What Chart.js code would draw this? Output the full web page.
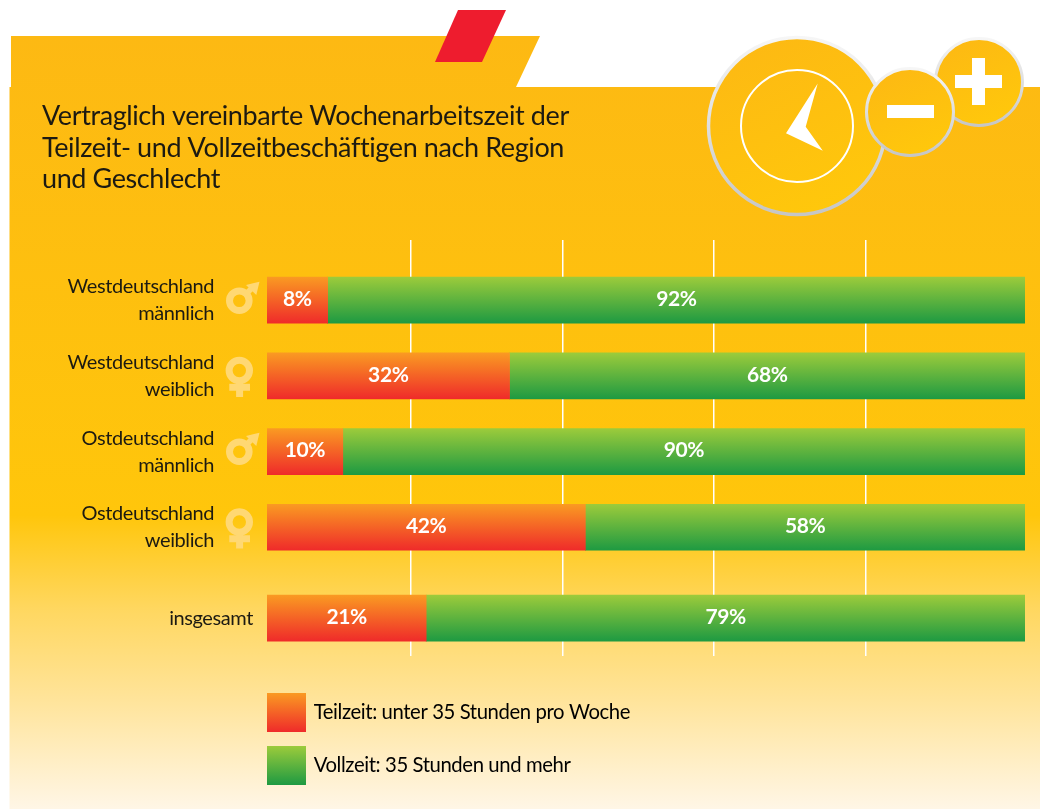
<!DOCTYPE html>
<html lang="de"><head><meta charset="utf-8">
<script src="https://cdn.jsdelivr.net/npm/chart.js@4"></script>
<style>
html,body{margin:0;padding:0;background:#fff;width:1045px;height:809px;overflow:hidden}
#bg,#c{position:absolute;left:0;top:0}
</style></head><body>
<svg id="bg" width="1045" height="809" viewBox="0 0 1045 809">
<defs>
<linearGradient id="page" gradientUnits="userSpaceOnUse" x1="0" y1="36" x2="0" y2="809">
<stop offset="0" stop-color="#FDB913"/><stop offset=".62" stop-color="#FFC60B"/><stop offset=".74" stop-color="#FFD75F"/><stop offset=".86" stop-color="#FFE49B"/><stop offset="1" stop-color="#FFF6E6"/>
</linearGradient>
<linearGradient id="disc" x1=".25" y1="0" x2=".7" y2="1"><stop offset="0" stop-color="#FDB913"/><stop offset="1" stop-color="#FFC80B"/></linearGradient>
<linearGradient id="rim" x1="0" y1="0" x2="0" y2="1"><stop offset="0" stop-color="#F6F6F6"/><stop offset="1" stop-color="#C6C6C6"/></linearGradient>
</defs>
<path d="M11 36H540L516 87H1040V809H9.5V87H11Z" fill="url(#page)"/>
<path d="M458 10H506L482 62H435Z" fill="#EE1C2E"/>
<circle cx="979" cy="82" r="43.5" fill="url(#disc)" stroke="url(#rim)" stroke-width="3"/>
<path d="M955 75H972V58H985V75H1002V88H985V105H972V88H955Z" fill="#fff"/>
<circle cx="797" cy="126" r="88.5" fill="url(#disc)" stroke="url(#rim)" stroke-width="3.5"/>
<circle cx="797" cy="126" r="56" fill="none" stroke="#fff" stroke-width="2"/>
<path d="M817.7 83.5L805.7 126.7L822.8 150.7L786 133.3Z" fill="#fff"/>
<circle cx="910" cy="112" r="43.5" fill="url(#disc)" stroke="url(#rim)" stroke-width="3"/>
<rect x="887" y="105" width="47" height="13" fill="#fff"/>
<g fill="none" stroke="#FFD873" stroke-width="7">
<circle cx="239.3" cy="300.7" r="9.8"/><path d="M246 294L254 286" stroke-width="5.5"/>
<circle cx="239.3" cy="370.5" r="10.2"/><path d="M239.6 383V397M229.3 387.3H250"/>
<circle cx="239.3" cy="451.7" r="9.8"/><path d="M246 445L254 437" stroke-width="5.5"/>
<circle cx="239.3" cy="522" r="10.2"/><path d="M239.6 534.5V548.5M229.3 538.8H250"/>
</g>
<path d="M259.5 281.7L256.3 295L246 285Z M259.5 432.7L256.3 446L246 436Z" fill="#FFD873"/>
</svg>
<canvas id="c" width="1045" height="809"></canvas>
<script>
const titleLines = ['Vertraglich vereinbarte Wochenarbeitszeit der','Teilzeit- und Vollzeitbeschäftigen nach Region','und Geschlecht'];
const categories = [['Westdeutschland','männlich'],['Westdeutschland','weiblich'],['Ostdeutschland','männlich'],['Ostdeutschland','weiblich'],['insgesamt']];
const rows = [0,1,2,3,4.2];
const teilzeit = [8,32,10,42,21];
const vollzeit = [92,68,90,58,79];
const seriesNames = ['Teilzeit: unter 35 Stunden pro Woche','Vollzeit: 35 Stunden und mehr'];
const gridTicks = [20,40,60,80];
const FONT = 'Lato,"Liberation Sans",sans-serif';
const TEXT = '#1c1a12';
const ORANGE = ['#FA9A22','#EF2B2A'];
const GREEN = ['#9CCB3B','#1E9A42'];
const BAR_H = 46;

function grad(ctx, top, h, c){const g=ctx.createLinearGradient(0,top,0,top+h);g.addColorStop(0,c[0]);g.addColorStop(1,c[1]);return g;}
function barFill(c){return function(context){
  const chart=context.chart, i=context.dataIndex;
  if(i===undefined||!chart.scales.y) return c[0];
  const y=chart.scales.y.getPixelForValue(rows[i]);
  return grad(chart.ctx,y-BAR_H/2,BAR_H,c);
};}
function labelFor(list){return (v,i)=>{const n=rows.indexOf(v);return n<0?'':list[n];};}

const valueLabels={id:'valueLabels',afterDatasetsDraw(chart){
  const ctx=chart.ctx;ctx.save();
  ctx.font='bold 21px '+FONT;ctx.fillStyle='#fff';ctx.textAlign='center';ctx.textBaseline='middle';
  chart.data.datasets.forEach((ds,d)=>{chart.getDatasetMeta(d).data.forEach((el,i)=>{
    const p=el.getCenterPoint();ctx.fillText(ds.data[i].x+'%',p.x,p.y-1);});});
  ctx.restore();
}};
const arrange={id:'arrange',
  afterLayout(chart){
    const l=chart.legend;
    l.left=250.5;l.right=1040;l.top=676.5;l.bottom=809;
    chart.scales.yTotal.left=100;
  },
  beforeDraw(chart){chart.ctx.letterSpacing='-0.4px';}
};

new Chart(document.getElementById('c'),{
  type:'bar',
  data:{datasets:[
    {label:seriesNames[0],data:rows.map((r,i)=>({x:teilzeit[i],y:r})),backgroundColor:barFill(ORANGE),barThickness:BAR_H,borderWidth:0},
    {label:seriesNames[1],data:rows.map((r,i)=>({x:vollzeit[i],y:r})),backgroundColor:barFill(GREEN),barThickness:BAR_H,borderWidth:0}
  ]},
  plugins:[valueLabels,arrange],
  options:{
    indexAxis:'y',responsive:false,animation:false,
    layout:{padding:{left:42,right:20,top:101,bottom:153}},
    plugins:{
      tooltip:{enabled:false},
      title:{display:true,text:titleLines,align:'start',color:TEXT,font:{family:FONT,size:27,weight:'normal',lineHeight:1.167},padding:{top:0,bottom:44}},
      legend:{position:'chartArea',align:'start',labels:{
        boxWidth:34,boxHeight:34,padding:19,color:TEXT,font:{family:FONT,size:20.3},
        generateLabels(chart){
          return [ORANGE,GREEN].map((c,i)=>{const g=grad(chart.ctx,693+i*53,39,c);return {text:seriesNames[i],fillStyle:g,strokeStyle:g,lineWidth:5,datasetIndex:i};});
        }
      }}
    },
    scales:{
      x:{type:'linear',stacked:true,min:0,max:100,display:false},
      xGrid:{type:'linear',axis:'x',position:'top',min:0.99,max:101.06,
        afterBuildTicks(s){s.ticks=gridTicks.map(v=>({value:v}));},
        grid:{color:'#fff',lineWidth:1.5,drawTicks:false},border:{display:false},ticks:{display:false}},
      y:{type:'linear',stacked:true,reverse:true,offset:false,min:-0.8,max:4.7,weight:2,
        afterBuildTicks(s){s.ticks=rows.slice(0,4).map(v=>({value:v}));},
        afterFit(s){s.width=172;},
        grid:{display:false,drawTicks:false},border:{display:false},
        ticks:{padding:0,autoSkip:false,color:TEXT,font:{family:FONT,size:20,lineHeight:1.35},callback:labelFor(categories)}},
      yTotal:{type:'linear',axis:'y',reverse:true,offset:false,min:-0.8,max:4.7,weight:1,position:'left',
        afterBuildTicks(s){s.ticks=rows.slice(4).map(v=>({value:v}));},
        afterFit(s){s.width=53;},
        grid:{display:false,drawTicks:false},border:{display:false},
        ticks:{padding:14,autoSkip:false,color:TEXT,font:{family:FONT,size:20},callback:labelFor(categories)}}
    }
  }
});
</script>
</body></html>
